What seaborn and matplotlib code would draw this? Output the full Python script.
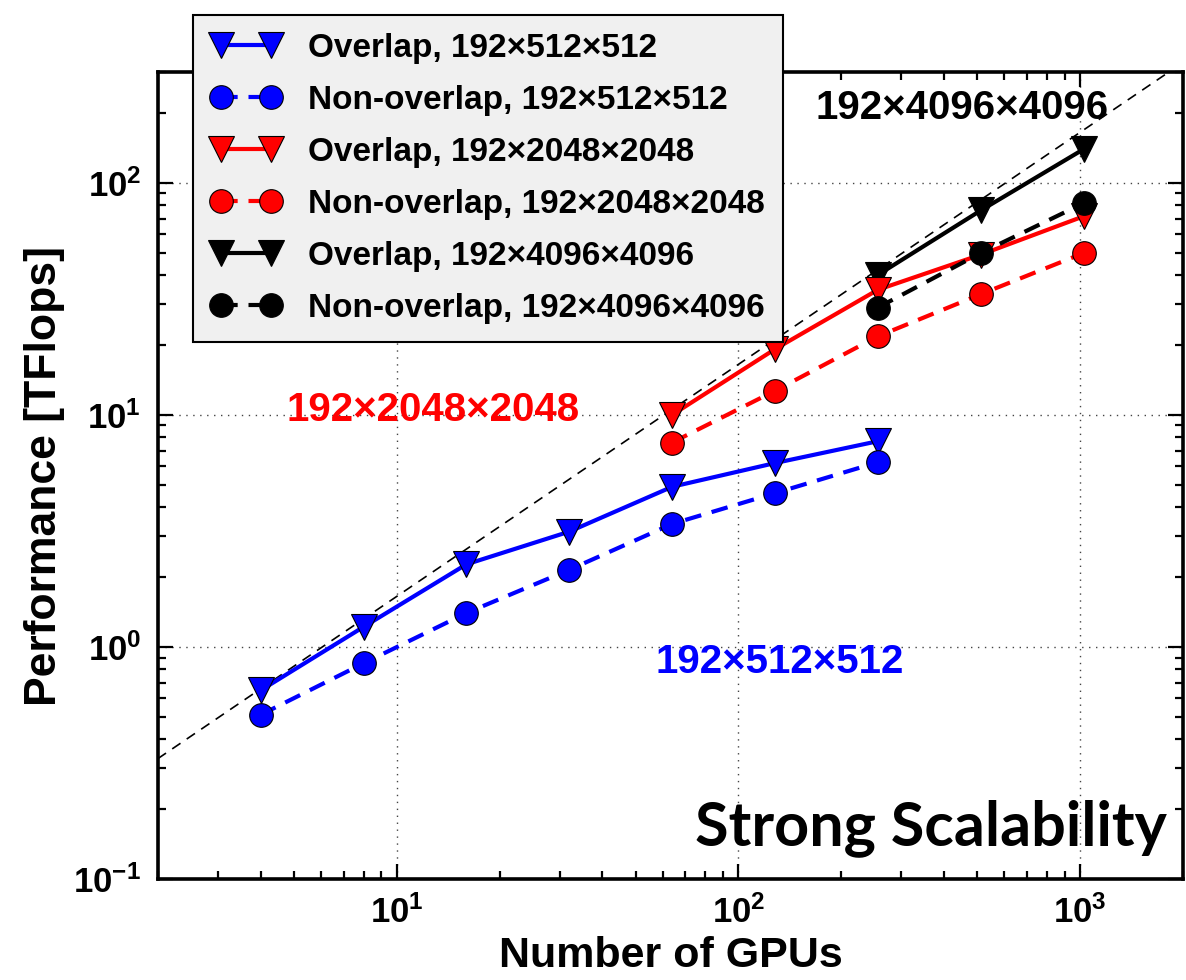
import numpy as np
import pandas as pd
import seaborn as sns
import matplotlib
matplotlib.use('Agg')
import matplotlib.pyplot as plt
from matplotlib.ticker import FuncFormatter, NullFormatter, LogLocator

gpus_512 = [4, 8, 16, 32, 64, 128, 256]
overlap_512 = [0.65, 1.22, 2.27, 3.14, 4.9, 6.2, 7.7]
nonoverlap_512 = [0.51, 0.85, 1.40, 2.15, 3.39, 4.6, 6.25]

gpus_2048 = [64, 128, 256, 512, 1024]
overlap_2048 = [10.0, 19.2, 34.6, 49.0, 71.7]
nonoverlap_2048 = [7.6, 12.7, 21.8, 33.1, 49.8]

gpus_4096 = [256, 512, 1024]
overlap_4096 = [40.1, 76.0, 139.6]
nonoverlap_4096 = [29.0, 49.8, 81.7]

ideal_gpus = [2, 2000]
ideal_tflops = [0.33, 330]

labels = ['Overlap, 192×512×512', 'Non-overlap, 192×512×512',
          'Overlap, 192×2048×2048', 'Non-overlap, 192×2048×2048',
          'Overlap, 192×4096×4096', 'Non-overlap, 192×4096×4096']

sns.set_style('ticks')
fam = ['Liberation Sans', 'DejaVu Sans']
plt.rcParams['font.family'] = fam
plt.rcParams['font.weight'] = 'bold'
plt.rcParams['text.color'] = 'black'
plt.rcParams['axes.labelcolor'] = 'black'
plt.rcParams['xtick.color'] = 'black'
plt.rcParams['ytick.color'] = 'black'
plt.rcParams['axes.edgecolor'] = 'black'
plt.rcParams['mathtext.fontset'] = 'custom'
plt.rcParams['mathtext.bf'] = 'Liberation Sans:bold'
plt.rcParams['mathtext.rm'] = 'Liberation Sans:bold'

fig = plt.figure(figsize=(11.86, 9.8), dpi=100)
ax = fig.add_axes([0.133, 0.103, 0.8645, 0.8235])

ax.set_xscale('log')
ax.set_yscale('log')

sns.lineplot(x=ideal_gpus, y=ideal_tflops, ax=ax, color='k', lw=1.2,
             linestyle=(0, (6, 4.5)), zorder=2)

dash = (0, (4, 2.6))
series = [
    (gpus_512, overlap_512, 'blue', 'v', '-', labels[0]),
    (gpus_512, nonoverlap_512, 'blue', 'o', dash, labels[1]),
    (gpus_4096, overlap_4096, 'black', 'v', '-', labels[4]),
    (gpus_2048, overlap_2048, 'red', 'v', '-', labels[2]),
    (gpus_2048, nonoverlap_2048, 'red', 'o', dash, labels[3]),
    (gpus_4096, nonoverlap_4096, 'black', 'o', dash, labels[5]),
]
handles = {}
for xs, ys, c, m, ls, lab in series:
    sns.lineplot(x=xs, y=ys, ax=ax, color=c, marker=m, markersize=17 if m == 'o' else 19,
                 markeredgecolor='k', markeredgewidth=0.8, lw=3, linestyle=ls,
                 errorbar=None, zorder=3)
    handles[lab] = ax.lines[-1]

ax.set_xlim(2, 2000)
ax.set_ylim(0.1, 300)

fmt = FuncFormatter(lambda v, p: r'$\mathbf{10^{%d}}$' % round(np.log10(v)))
ax.xaxis.set_major_formatter(fmt)
ax.yaxis.set_major_formatter(fmt)
ax.xaxis.set_minor_formatter(NullFormatter())
ax.yaxis.set_minor_formatter(NullFormatter())
ax.xaxis.set_minor_locator(LogLocator(base=10, subs=np.arange(2, 10)))
ax.yaxis.set_minor_locator(LogLocator(base=10, subs=np.arange(2, 10)))

ax.tick_params(which='both', direction='in', top=True, right=True, width=1.6)
ax.tick_params(which='major', length=11, labelsize=25)
ax.tick_params(which='minor', length=6)
ax.tick_params(axis='x', which='major', pad=12)
ax.tick_params(axis='y', which='major', pad=12)
ax.grid(which='major', linestyle=(0, (1, 4)), color='#444444', lw=1)
for s in ax.spines.values():
    s.set_linewidth(2.6)

ax.set_xlabel('Number of GPUs', fontsize=31, fontweight='bold', labelpad=4)
ax.set_ylabel('Performance [TFlops]', fontsize=32, fontweight='bold', labelpad=6)

ax.text(450, 210, '192×4096×4096', color='black', fontsize=29, fontweight='bold',
        ha='center', va='center')
ax.text(12.8, 10.5, '192×2048×2048', color='red', fontsize=29, fontweight='bold',
        ha='center', va='center')
ax.text(132, 0.86, '192×512×512', color='blue', fontsize=29, fontweight='bold',
        ha='center', va='center')
ax.text(0.984, 0.063, 'Strong Scalability', transform=ax.transAxes, fontsize=44,
        fontweight='bold', family=['Lato', 'DejaVu Sans'], color='black',
        ha='right', va='center')

leg = ax.legend([handles[l] for l in labels], labels, loc='upper left',
                bbox_to_anchor=(0.034, 1.071), borderaxespad=0, numpoints=2,
                handlelength=2.1, prop={'family': fam, 'weight': 'bold', 'size': 24},
                frameon=True, fancybox=False, framealpha=1, facecolor='#f0f0f0',
                edgecolor='black', borderpad=0.55, labelspacing=0.63, handletextpad=0.8)
leg.get_frame().set_linewidth(1.5)
leg.set_zorder(10)

fig.savefig('out.png', dpi=100)
